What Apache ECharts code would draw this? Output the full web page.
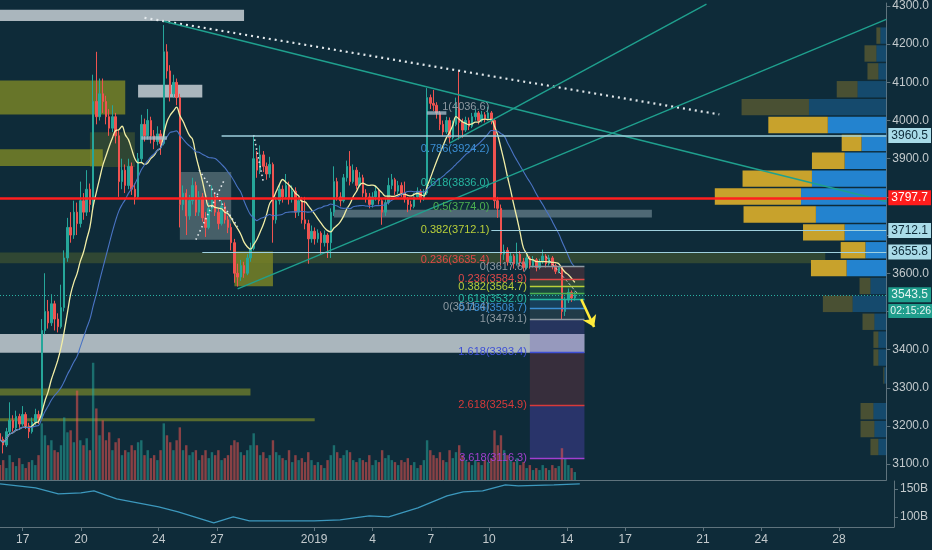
<!DOCTYPE html>
<html><head><meta charset="utf-8">
<script src="https://cdn.jsdelivr.net/npm/echarts@6/dist/echarts.min.js"></script>
<style>html,body{margin:0;padding:0;background:#0e2b39;}#c{width:932px;height:550px;}</style>
</head><body><div id="c"></div>
<script>
// ---------------- DATA ----------------
const startTime = '2018-12-15 20:00';   // first 4h slot
const slotCount = 277;                   // 4h slots shown on the time axis

const tickDates = ['2018-12-17 00:00','2018-12-20 00:00','2018-12-24 00:00','2018-12-27 00:00','2019-01-01 00:00','2019-01-04 00:00','2019-01-07 00:00','2019-01-10 00:00','2019-01-14 00:00','2019-01-17 00:00','2019-01-21 00:00','2019-01-24 00:00','2019-01-28 00:00'];
const tickLabels = ['17','20','24','27','2019','4','7','10','14','17','21','24','28'];
const priceTicks = [3100,3200,3300,3400,3500,3600,3700,3800,3900,4000,4100,4200,4300];
const capTicks = [100,150];

const firstOpen = 3180;
const closes = [
3165,3150,3185,3215,3195,3225,3205,3230,3200,3185,
3210,3230,3220,3450,3500,3470,3520,3480,3460,3510,
3640,3720,3700,3760,3730,3790,3760,3820,3780,4050,
4010,4070,4050,4010,3980,4010,3960,3840,3870,3830,
3880,3820,3800,3900,3990,3960,4000,3960,3945,3965,
3940,4180,4130,4070,4100,4060,3780,3810,3750,3790,
3830,3760,3800,3745,3720,3770,3800,3760,3730,3775,
3740,3720,3680,3600,3590,3620,3600,3640,3665,3900,
3870,3910,3880,3860,3885,3740,3790,3820,3800,3830,
3795,3815,3760,3790,3740,3730,3690,3710,3690,3705,
3680,3700,3680,3760,3840,3800,3790,3850,3880,3840,
3870,3830,3850,3810,3800,3780,3800,3815,3790,3760,
3785,3830,3845,3815,3830,3810,3795,3780,3775,3800,
3815,3795,3810,4060,4045,4040,4020,3990,3970,4000,
3955,3990,4030,3995,3975,4000,3985,4010,4020,4000,
4015,4005,4020,4000,3790,3770,3650,3660,3630,3645,
3625,3650,3630,3615,3640,3620,3635,3615,3630,3645,
3625,3640,3620,3605,3615,3500,3530,3550,3535,3543.5];
const highs = [
3195,3172,3195,3262,3228,3240,3232,3252,3236,3208,
3222,3245,3240,3480,3600,3530,3545,3528,3495,3570,
3660,3745,3760,3790,3785,3840,3810,3870,3835,4120,
4180,4110,4110,4065,4030,4040,4020,3975,3900,3885,
3900,3890,3835,3915,4015,4005,4030,4010,3975,3985,
3975,4250,4200,4145,4120,4110,4070,3830,3820,3805,
3850,3840,3815,3810,3760,3785,3830,3810,3770,3790,
3785,3750,3730,3690,3625,3635,3630,3650,3680,3960,
3920,3935,3920,3890,3905,3890,3800,3835,3830,3860,
3840,3830,3825,3800,3800,3800,3740,3725,3720,3715,
3710,3712,3705,3770,3880,3850,3812,3860,3895,3920,
3885,3878,3865,3858,3820,3810,3812,3830,3822,3795,
3795,3850,3860,3850,3842,3838,3840,3800,3790,3810,
3825,3820,3820,4085,4068,4080,4048,4025,4000,4010,
4008,4000,4060,4130,4005,4010,4008,4020,4030,4025,
4025,4022,4036,4025,4005,3800,3780,3675,3668,3655,
3650,3680,3658,3640,3648,3645,3645,3640,3638,3662,
3650,3648,3645,3625,3618,3618,3538,3560,3555,3552];
const lows = [
3150,3128,3145,3178,3185,3190,3195,3200,3192,3168,
3180,3202,3205,3215,3440,3455,3462,3450,3445,3455,
3500,3630,3680,3690,3700,3720,3740,3750,3760,3770,
3990,4000,4020,3990,3960,3970,3940,3800,3820,3810,
3820,3805,3780,3795,3890,3945,3950,3940,3925,3935,
3910,3935,4110,4050,4060,4040,3720,3765,3700,3740,
3780,3750,3750,3735,3695,3715,3760,3750,3715,3725,
3730,3705,3660,3575,3565,3580,3588,3595,3630,3660,
3850,3860,3865,3845,3850,3680,3730,3780,3785,3795,
3780,3785,3745,3750,3730,3715,3625,3680,3675,3680,
3650,3670,3640,3640,3750,3790,3775,3785,3840,3830,
3835,3820,3825,3800,3785,3770,3772,3790,3780,3727,
3750,3780,3820,3805,3808,3800,3785,3760,3765,3770,
3795,3785,3790,3805,4030,4025,4005,3975,3960,3965,
3940,3950,3985,3950,3955,3970,3975,3980,4000,3990,
3995,3995,4000,3990,3770,3745,3620,3635,3620,3622,
3612,3620,3618,3605,3610,3612,3615,3605,3610,3625,
3615,3620,3610,3598,3600,3479,3488,3522,3525,3528];
const volumes = [
1500,2000,1200,2500,1800,1400,2200,1600,1200,1800,2000,1500,2500,
5700,4500,3500,4000,3000,2800,3500,6300,4800,5000,3800,9000,4000,3500,4200,3000,
11800,7200,4500,6000,4000,4800,3000,3800,4200,2500,3000,2800,
3500,3000,3800,4000,2500,3000,2200,2500,2000,3000,5700,4500,3800,3000,4000,5300,
3000,3500,2500,2800,3000,2000,2500,3000,2200,2800,2500,3000,2000,2200,2500,3500,
4000,3800,2800,2500,3000,3500,4700,3500,2500,2800,2200,2500,4000,2800,2500,2200,2000,3000,
1800,2500,2000,2200,1800,2800,2000,1500,1800,1500,1200,2000,
2500,3500,2800,2200,2500,3000,2800,2000,1800,2200,2000,1800,
2500,1500,2000,1800,3000,2200,2500,2000,1800,1500,2000,1800,2200,1500,1800,1200,1500,2000,
4000,3000,2500,2200,2800,2000,1800,3000,2200,2800,3500,2500,2000,1800,1500,2000,1800,1500,2000,1800,2200,
5000,3500,4500,3000,2500,2000,1800,2200,1500,1800,1200,1500,1000,1200,1000,1500,1200,1000,1500,1200,1400,3200,2200,1500,1200,800];

// lower panel (market value, billions)
const capDates = ['2018-12-15 20:00','2018-12-17 16:00','2018-12-18 20:00','2018-12-20 00:00','2018-12-20 16:00','2018-12-21 20:00','2018-12-24 00:00','2018-12-25 00:00','2018-12-26 20:00','2018-12-27 20:00','2018-12-28 16:00','2019-01-01 00:00','2019-01-02 08:00','2019-01-03 20:00','2019-01-04 20:00','2019-01-06 08:00','2019-01-07 20:00','2019-01-08 16:00','2019-01-09 16:00','2019-01-10 20:00','2019-01-11 12:00','2019-01-13 08:00','2019-01-14 16:00'];
const capValues = [158.9,151.8,141.1,142.9,146.4,132.1,117.9,108.9,89.3,100,92.9,92.9,94.6,101.8,100,116.1,137.5,144.6,146.4,157.1,155.4,157.1,158.9];

// volume profile rows (price edges bottom->top, up / down volume)
const profileEdges = [3120.8,3167.7,3214.5,3261.4,3308.2,3355.1,3401.9,3448.8,3495.6,3542.5,3589.3,3636.2,3683.0,3729.9,3776.7,3823.6,3870.4,3917.3,3964.1,4011.0,4057.8,4104.7,4151.5,4198.4,4245.2];
const profileUp   = [80,140,130,0,10,50,50,120,300,110,360,250,420,730,870,700,330,200,600,680,210,110,120,40];
const profileDown = [80,120,130,0,20,80,80,120,340,160,400,210,420,710,860,750,420,250,590,780,290,80,100,60];
const valueArea = [3589.3, 4011.0];

// drawn zones: [from, to, priceHigh, priceLow, kind]
const zones = [
 ['2018-12-15 20:00','2018-12-28 12:00',4290,4261,'grey'],
 ['2018-12-23 00:00','2018-12-26 08:00',4094,4060,'grey'],
 ['2018-12-15 20:00','2018-12-22 08:00',4105,4016,'olive'],
 ['2018-12-15 20:00','2018-12-21 04:00',3925,3881,'olive'],
 ['2018-12-20 12:00','2018-12-22 20:00',3969,3878,'oliveFaint'],
 ['2018-12-25 04:00','2018-12-27 20:00',3865,3688,'greyFaint'],
 ['2018-12-28 00:00','2018-12-30 00:00',3657,3566,'olive'],
 ['2018-12-15 20:00','2019-01-27 16:00',3654,3626,'oliveDark'],
 ['2019-01-02 04:00','2019-01-18 16:00',3766,3746,'greyMid'],
 ['2018-12-15 20:00','2019-01-15 04:00',3441,3392,'grey'],
 ['2018-12-15 20:00','2018-12-28 20:00',3298,3280,'oliveThin'],
 ['2018-12-15 20:00','2019-01-01 04:00',3220,3212,'oliveThin']
];
// drawn lines: [from, priceFrom, to, priceTo, kind]
const drawnLines = [
 ['2018-12-23 08:00',4269,'2019-01-22 04:00',4016,'whiteDotted'],
 ['2018-12-24 08:00',4260,'2019-01-30 20:00',3788,'teal'],
 ['2018-12-28 04:00',3559,'2019-01-30 20:00',4265,'teal'],
 ['2019-01-08 04:00',3941,'2019-01-21 12:00',4305,'teal'],
 ['2018-12-26 04:00',3870,'2018-12-28 04:00',3722,'whiteDots'],
 ['2018-12-26 00:00',3688,'2018-12-27 12:00',3847,'whiteDots'],
 ['2018-12-29 00:00',3962,'2018-12-29 12:00',3839,'whiteDots'],
 ['2019-01-13 04:00',3644,'2019-01-14 20:00',3545,'thinDash'],
 ['2019-01-07 00:00',4021,'2019-01-08 00:00',4021,'greyBar'],
 ['2018-12-23 04:00',3956,'2018-12-24 12:00',3956,'greyBar']
];
const arrowLine = ['2019-01-15 00:00',3532,'2019-01-15 16:00',3459];

// horizontal levels with price tags: [price, from]
const axisLevels = [[3960.5,'2018-12-27 08:00'],[3797.7,'2018-12-15 20:00'],[3712.1,'2019-01-10 08:00'],[3655.8,'2018-12-26 08:00'],[3543.5,'2018-12-15 20:00']];
const countdown = '02:15:26';

// Fibonacci retracement #1 (labels only)
const fib1Levels = [1,0.786,0.618,0.5,0.382,0.236,0];
const fib1Prices = [4036.6,3924.2,3836.0,3774.0,3712.1,3635.4,3511.4];
const fib1Range = ['2019-01-10 08:00','2019-01-11 12:00'];
// Fibonacci #2
const fib2Levels = [0,0.236,0.382,0.5,0.618,0.786,1,1.618,2.618,3.618];
const fib2Prices = [3617.6,3584.9,3564.7,3548.4,3532.0,3508.7,3479.1,3393.4,3254.9,3116.3];
const fib2Range = ['2019-01-12 08:00','2019-01-15 04:00'];

// ---------------- STYLE ----------------
const FONT = '"Liberation Sans Narrow","Liberation Sans",Arial,sans-serif';
const BG = '#0e2b39', AXIS = '#5f737d', TXT = '#c3cacd';
const UP = '#26a69a', DN = '#ef5350';
const zoneStyle = {
 grey:'rgba(192,202,207,0.88)', olive:'rgba(168,170,30,0.58)', oliveFaint:'rgba(168,170,30,0.22)',
 greyFaint:'rgba(190,205,205,0.32)', oliveDark:'rgba(120,130,40,0.32)', greyMid:'rgba(170,190,200,0.42)',
 oliveThin:'rgba(150,160,40,0.55)'
};
const lineStyleMap = {
 whiteDotted:{color:'#e3e9ec',width:2.2,type:[2,4]},
 teal:{color:'#1fa08e',width:1.4,type:'solid'},
 whiteDots:{color:'#e3e9ec',width:1.6,type:[1.5,3]},
 thinDash:{color:'rgba(225,230,235,0.75)',width:1,type:[3,2]},
 greyBar:{color:'rgba(170,195,210,0.75)',width:3.5,type:'solid'}
};
const fibColor = {'0':'#8d99a1','0.236':'#e04848','0.382':'#b8cf3a','0.5':'#4caf50','0.618':'#26b5a0','0.786':'#3b8fd4','1':'#8d99a1','1.618':'#3d4fd6','2.618':'#d83a3a','3.618':'#a23fd0'};
const fibBand = ['rgba(224,72,72,0.20)','rgba(184,207,58,0.20)','rgba(76,175,80,0.22)','rgba(38,181,160,0.22)','rgba(59,143,212,0.22)','rgba(141,153,161,0.15)','rgba(100,80,190,0.28)','rgba(190,60,70,0.24)','rgba(100,70,210,0.32)'];
const levelTag = [
 {bg:'#a9dbe8',fg:'#0e2b39',line:'#9fd0de',w:1.5,type:'solid'},
 {bg:'#ff1c1c',fg:'#ffffff',line:'#ff1f1f',w:2.6,type:'solid'},
 {bg:'#a9dbe8',fg:'#0e2b39',line:'#9fd0de',w:1.2,type:'solid'},
 {bg:'#a9dbe8',fg:'#0e2b39',line:'#9fd0de',w:1.2,type:'solid'},
 {bg:'#1f9d8c',fg:'#e6f5f2',line:'#2bb3a3',w:1,type:[1,2]}
];
const HIDDEN = { color: 'rgba(0,0,0,0)', width: 1, type: 'solid' };

// ---------------- BUILD ----------------
const cats = [];
{
  const t0 = Date.UTC(2018, 11, 15, 20);
  const p = n => String(n).padStart(2, '0');
  for (let i = 0; i < slotCount; i++) {
    const d = new Date(t0 + i * 4 * 3600e3);
    cats.push(d.getUTCFullYear() + '-' + p(d.getUTCMonth() + 1) + '-' + p(d.getUTCDate()) + ' ' + p(d.getUTCHours()) + ':00');
  }
}
const lastCat = cats[cats.length - 1];
const opens = closes.map((c, i) => i === 0 ? firstOpen : closes[i - 1]);
const candles = closes.map((c, i) => [opens[i], c, lows[i], highs[i]]);
function sma(arr, n) {
  return arr.map((v, i) => { const s = Math.max(0, i - n + 1); let sum = 0; for (let j = s; j <= i; j++) sum += arr[j]; return +(sum / (i - s + 1)).toFixed(1); });
}
const maFast = sma(closes, 10), maSlow = sma(closes, 25);
const volData = volumes.map((v, i) => ({ value: v, itemStyle: { color: closes[i] >= opens[i] ? 'rgba(38,166,154,0.55)' : 'rgba(239,83,80,0.55)' } }));
const profileData = profileUp.map((u, k) => [profileEdges[k], profileEdges[k + 1], u, profileDown[k], (profileEdges[k] >= valueArea[0] - 0.01 && profileEdges[k + 1] <= valueArea[1] + 0.01) ? 1 : 0]);
const capData = capDates.map((d, i) => [d, capValues[i]]);

const zoneAreas = zones.map(z => [{ coord: [z[0], z[2]], itemStyle: { color: zoneStyle[z[4]] } }, { coord: [z[1], z[3]] }]);
const fibAreas = [];
for (let i = 0; i < fib2Prices.length - 1; i++) fibAreas.push([{ coord: [fib2Range[0], fib2Prices[i]], itemStyle: { color: fibBand[i] } }, { coord: [fib2Range[1], fib2Prices[i + 1]] }]);

const lblBase = { fontFamily: FONT, fontSize: 12 };
const fibLbl = { fontFamily: FONT, fontSize: 11 };
const mLines = [];
drawnLines.forEach(l => mLines.push([{ coord: [l[0], l[1]], lineStyle: lineStyleMap[l[4]], label: { show: false } }, { coord: [l[2], l[3]] }]));
axisLevels.forEach((l, i) => {
  const s = levelTag[i];
  mLines.push([{ coord: [l[1], l[0]], lineStyle: { color: s.line, width: s.w, type: s.type },
    label: Object.assign({ show: true, position: 'end', distance: 2, formatter: l[0].toFixed(1), color: s.fg, backgroundColor: s.bg, padding: [2, 3, 1, 3] }, lblBase) },
    { coord: [lastCat, l[0]] }]);
});
mLines.push([{ coord: [cats[cats.length - 2], 3500.9], lineStyle: HIDDEN,
  label: { show: true, position: 'end', distance: 2, formatter: countdown, color: '#e6f5f2', backgroundColor: '#1f9d8c', padding: [2, 1, 1, 2], fontFamily: FONT, fontSize: 10.5 } },
  { coord: [lastCat, 3500.9] }]);
fib1Levels.forEach((lv, i) => {
  mLines.push([{ coord: [fib1Range[0], fib1Prices[i]], lineStyle: HIDDEN,
    label: Object.assign({ show: true, position: 'start', distance: 2, formatter: lv + '(' + fib1Prices[i].toFixed(1) + ')', color: fibColor[String(lv)] }, fibLbl) },
    { coord: [fib1Range[1], fib1Prices[i]] }]);
});
fib2Levels.forEach((lv, i) => {
  mLines.push([{ coord: [fib2Range[0], fib2Prices[i]], lineStyle: { color: fibColor[String(lv)], width: 1.3, type: 'solid' },
    label: Object.assign({ show: lv !== 0.5, position: 'start', distance: 3, formatter: lv + '(' + fib2Prices[i].toFixed(1) + ')', color: fibColor[String(lv)] }, fibLbl) },
    { coord: [fib2Range[1], fib2Prices[i]] }]);
});
mLines.push([{ coord: [arrowLine[0], arrowLine[1]], lineStyle: { color: '#ffeb3b', width: 2.6, type: 'solid' }, label: { show: false }, symbol: 'none' },
  { coord: [arrowLine[2], arrowLine[3]], symbol: 'arrow', symbolSize: 11 }]);

const tickFn = (idx, val) => tickDates.indexOf(val) >= 0;
const chart = echarts.init(document.getElementById('c'));
chart.setOption({
  backgroundColor: BG,
  animation: false,
  textStyle: { fontFamily: FONT },
  grid: [
    { left: 0, right: 38, top: 0, height: 480 },
    { left: 0, right: 38, top: 481, height: 46 }
  ],
  xAxis: [
    { type: 'category', gridIndex: 0, data: cats, boundaryGap: false, axisLine: { lineStyle: { color: AXIS } }, axisTick: { show: false }, axisLabel: { show: false }, splitLine: { show: false } },
    { type: 'category', gridIndex: 1, data: cats, boundaryGap: false, axisLine: { lineStyle: { color: AXIS } },
      axisTick: { show: true, interval: tickFn, length: 4, lineStyle: { color: AXIS } },
      axisLabel: { interval: tickFn, formatter: v => { const k = tickDates.indexOf(v); return k >= 0 ? tickLabels[k] : ''; }, color: TXT, fontSize: 12, margin: 7, fontFamily: FONT, hideOverlap: false },
      splitLine: { show: false } },
    { type: 'value', gridIndex: 0, inverse: true, min: 0, max: 8940, show: false }
  ],
  yAxis: [
    { type: 'value', gridIndex: 0, position: 'right', min: 3058.4, max: 4307.8,
      axisLine: { show: true, lineStyle: { color: AXIS } },
      axisTick: { show: true, customValues: priceTicks, length: 4, lineStyle: { color: AXIS } },
      axisLabel: { customValues: priceTicks, formatter: v => v.toFixed(1), color: TXT, fontSize: 12, margin: 6, fontFamily: FONT },
      splitLine: { show: false } },
    { type: 'value', gridIndex: 0, min: 0, max: 48000, show: false },
    { type: 'value', gridIndex: 1, position: 'right', min: 82, max: 164,
      axisLine: { show: true, lineStyle: { color: AXIS } },
      axisTick: { show: true, customValues: capTicks, length: 4, lineStyle: { color: AXIS } },
      axisLabel: { customValues: capTicks, formatter: v => v + 'B', color: TXT, fontSize: 12, margin: 6, fontFamily: FONT },
      splitLine: { show: false } }
  ],
  series: [
    { name: 'Volume', type: 'bar', xAxisIndex: 0, yAxisIndex: 1, data: volData, barWidth: '75%', z: 1, silent: true },
    { name: 'Profile', type: 'custom', xAxisIndex: 2, yAxisIndex: 0, z: 1, silent: true, data: profileData,
      encode: { x: [2, 3], y: [0, 1] },
      renderItem: (params, api) => {
        const lo = api.value(0), hi = api.value(1), up = api.value(2), dn = api.value(3), va = api.value(4);
        const a = api.coord([0, hi]), b = api.coord([dn, lo]), c = api.coord([dn + up, lo]);
        const top = a[1] + 0.5, h = Math.max(0, b[1] - a[1] - 1.5);
        return { type: 'group', children: [
          { type: 'rect', shape: { x: b[0], y: top, width: a[0] - b[0], height: h }, style: { fill: va ? '#2383cf' : 'rgba(35,131,207,0.35)' } },
          { type: 'rect', shape: { x: c[0], y: top, width: b[0] - c[0], height: h }, style: { fill: va ? '#c8a22c' : 'rgba(200,160,40,0.32)' } }
        ] };
      } },
    { name: 'BTC', type: 'candlestick', xAxisIndex: 0, yAxisIndex: 0, data: candles, barWidth: '62%', z: 3, silent: true,
      itemStyle: { color: UP, color0: DN, borderColor: UP, borderColor0: DN, borderWidth: 1 } },
    { name: 'MA fast', type: 'line', xAxisIndex: 0, yAxisIndex: 0, data: maFast, showSymbol: false, smooth: 0.4, z: 4, silent: true, lineStyle: { color: '#f2eea6', width: 1.3 } },
    { name: 'MA slow', type: 'line', xAxisIndex: 0, yAxisIndex: 0, data: maSlow, showSymbol: false, smooth: 0.4, z: 4, silent: true, lineStyle: { color: '#4a74c4', width: 1.1 } },
    { name: 'zones', type: 'line', xAxisIndex: 0, yAxisIndex: 0, data: [], z: 5, silent: true,
      markArea: { silent: true, data: zoneAreas.concat(fibAreas) } },
    { name: 'lines', type: 'line', xAxisIndex: 0, yAxisIndex: 0, data: [], z: 6, silent: true,
      markLine: { silent: true, symbol: ['none', 'none'], animation: false, data: mLines } },
    { name: 'Cap', type: 'line', xAxisIndex: 1, yAxisIndex: 2, data: capData, connectNulls: true, showSymbol: false, silent: true, lineStyle: { color: '#3c98bd', width: 1.2 } }
  ]
});
</script>
</body></html>
